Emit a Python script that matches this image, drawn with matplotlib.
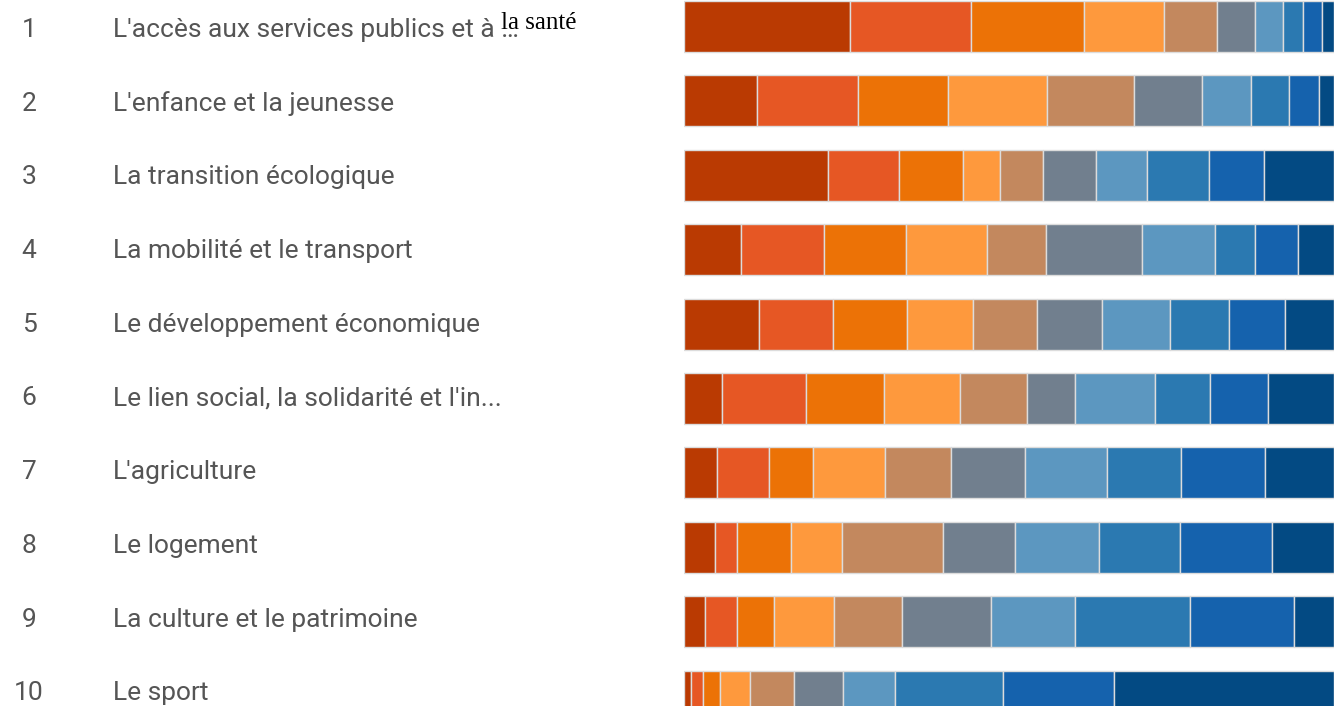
import matplotlib
matplotlib.use("Agg")
import matplotlib.pyplot as plt
import matplotlib.transforms as mtransforms
import numpy as np

# share of respondents (%) who gave each rank (1st .. 10th) to each theme
themes = [
    "L'accès aux services publics et à …",
    "L'enfance et la jeunesse",
    "La transition écologique",
    "La mobilité et le transport",
    "Le développement économique",
    "Le lien social, la solidarité et l'in...",
    "L'agriculture",
    "Le logement",
    "La culture et le patrimoine",
    "Le sport",
]
ranks = [str(i) for i in range(1, 11)]

rank_1 = [25.5, 11.2, 22.2, 8.7, 11.6, 5.8, 5.1, 4.8, 3.3, 1.0]
rank_2 = [18.6, 15.6, 10.8, 12.9, 11.3, 13.0, 8.0, 3.4, 4.9, 1.9]
rank_3 = [17.4, 13.8, 9.9, 12.5, 11.4, 12.0, 6.7, 8.2, 5.7, 2.7]
rank_4 = [12.3, 15.2, 5.7, 12.5, 10.1, 11.7, 11.1, 7.9, 9.2, 4.6]
rank_5 = [8.2, 13.4, 6.6, 9.1, 9.9, 10.3, 10.1, 15.6, 10.4, 6.7]
rank_6 = [5.8, 10.5, 8.2, 14.8, 10.0, 7.3, 11.4, 11.0, 13.8, 7.6]
rank_7 = [4.4, 7.6, 7.8, 11.2, 10.4, 12.3, 12.7, 12.9, 12.8, 8.0]
rank_8 = [3.0, 5.8, 9.6, 6.1, 9.2, 8.5, 11.3, 12.5, 17.8, 16.6]
rank_9 = [3.0, 4.6, 8.5, 6.7, 8.5, 8.9, 13.0, 14.1, 15.9, 17.0]
rank_10 = [1.8, 2.3, 10.7, 5.5, 7.6, 10.2, 10.6, 9.6, 6.2, 33.9]

rank_shares = [rank_1, rank_2, rank_3, rank_4, rank_5,
               rank_6, rank_7, rank_8, rank_9, rank_10]

colors = ["#BA3A02", "#E65724", "#EC7206", "#FE993D", "#C3885E",
          "#717F8E", "#5C97C0", "#2B79B1", "#1562AD", "#034A83"]

W, H = 1334, 706
pitch = 74.4      # px between bars
first_c = 26.5    # px from top to centre of first bar
lab_pitch = 73.7  # px between label baselines
lab_first = 37    # px from top to first label baseline

fig = plt.figure(figsize=(W / 100, H / 100), dpi=100)
ax = fig.add_axes([684 / W, 0, 650 / W, 1])

y = np.arange(len(themes))
left = np.zeros(len(themes))
for share, col in zip(rank_shares, colors):
    ax.barh(y, share, left=left, height=51 / pitch, color=col,
            edgecolor="#dcdcdc", linewidth=1)
    left += np.array(share)

ax.set_xlim(0, 100)
ax.set_ylim((H - first_c) / pitch, -first_c / pitch)
ax.axis("off")

# rank numbers and theme names on the left
trans = mtransforms.blended_transform_factory(fig.transFigure, ax.transData)
for i, (r, t) in enumerate(zip(ranks, themes)):
    yb = (lab_first + i * lab_pitch - first_c) / pitch
    ax.text(29 / W, yb, r, transform=trans, ha="center", va="baseline",
            fontsize=19, color="#555555", family="Roboto")
    ax.text(113 / W, yb, t, transform=trans, ha="left", va="baseline",
            fontsize=19, color="#555555", family="Roboto")

# the pasted-in end of the first label
ax.text(501 / W, (29 - first_c) / pitch, "la santé", transform=trans,
        ha="left", va="baseline", fontsize=18, color="black",
        family="Liberation Serif")

fig.savefig("out.png", dpi=100)
